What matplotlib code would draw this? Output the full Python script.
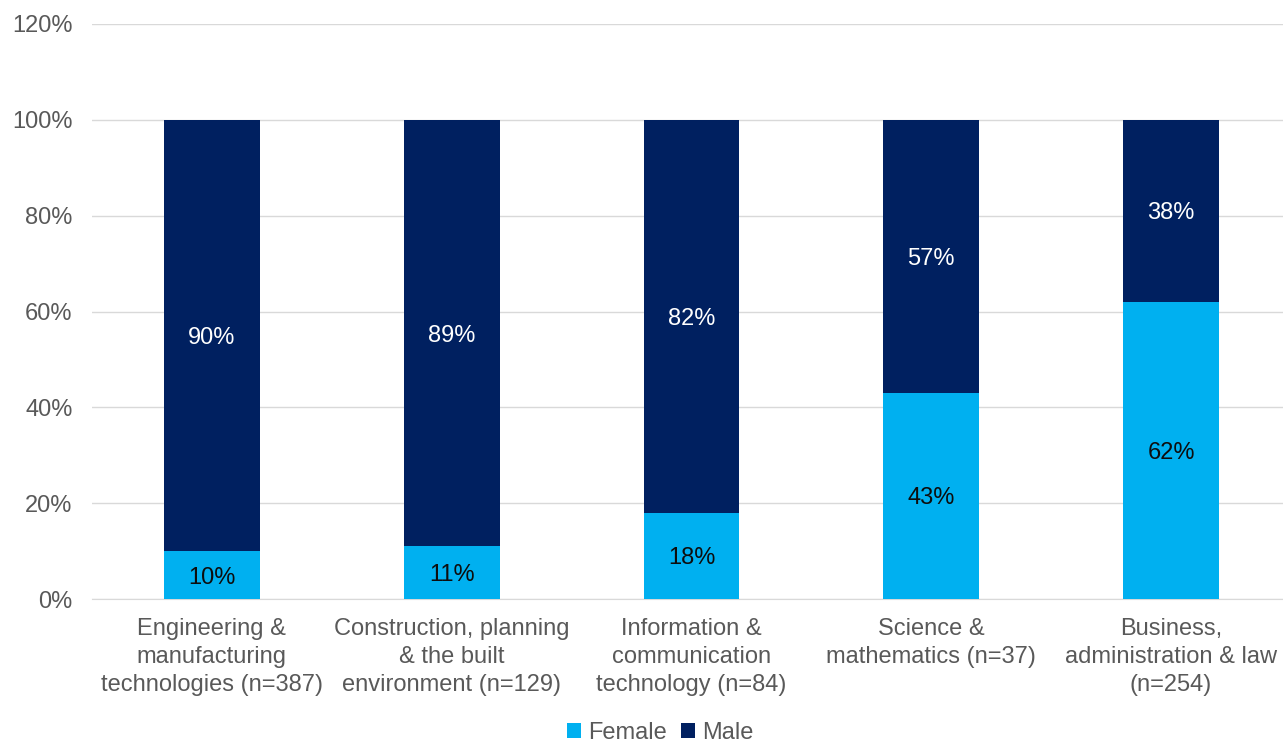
import matplotlib.pyplot as plt
import numpy as np

categories = ["Engineering &\nmanufacturing\ntechnologies (n=387)",
              "Construction, planning\n& the built\nenvironment (n=129)",
              "Information &\ncommunication\ntechnology (n=84)",
              "Science &\nmathematics (n=37)",
              "Business,\nadministration & law\n(n=254)"]
female = [10, 11, 18, 43, 62]
male = [90, 89, 82, 57, 38]
yticks = [0, 20, 40, 60, 80, 100, 120]

plt.rcParams['font.family'] = ['Liberation Sans', 'DejaVu Sans']
W, H = 1283, 742
fig = plt.figure(figsize=(W/100, H/100), dpi=100)
left, right, bottom, top = 92, 1291, 599, 24
ax = fig.add_axes([left/W, 1-bottom/H, (right-left)/W, (bottom-top)/H])

c_f = '#00B0F0'
c_m = '#002060'
x = np.arange(len(categories))
bw = 0.4
ax.bar(x, female, bw, color=c_f, label='Female', zorder=3)
ax.bar(x, male, bw, bottom=female, color=c_m, label='Male', zorder=3)

fs = 17
for i in range(len(x)):
    ax.text(x[i], female[i]/2, f"{female[i]}%", ha='center', va='center_baseline',
            fontsize=fs, color='#0D0D0D', zorder=4)
    ax.text(x[i], female[i] + male[i]/2, f"{male[i]}%", ha='center', va='center_baseline',
            fontsize=fs, color='white', zorder=4)

ax.set_xlim(-0.5, len(x)-0.5)
ax.set_ylim(0, 120)
ax.set_yticks(yticks)
ax.set_yticklabels([f"{v}%" for v in yticks], fontsize=fs, color='#595959')
ax.set_xticks(x)
ax.set_xticklabels(categories, fontsize=fs, color='#595959', linespacing=1.35)
ax.tick_params(axis='both', length=0)
ax.tick_params(axis='x', pad=14)
ax.tick_params(axis='y', pad=14)
ax.grid(axis='y', color='#D9D9D9', linewidth=1, zorder=0)
for s in ['top', 'right', 'left']:
    ax.spines[s].set_visible(False)
ax.spines['bottom'].set_color('#D9D9D9')
ax.spines['bottom'].set_zorder(1)

fig.legend(loc='center', bbox_to_anchor=(660/W, 1-733/H), ncol=2, frameon=False,
           fontsize=fs, handlelength=0.6, handleheight=0.6, handletextpad=0.3,
           columnspacing=0.6, labelcolor='#595959')

fig.savefig('out.png', dpi=100)
